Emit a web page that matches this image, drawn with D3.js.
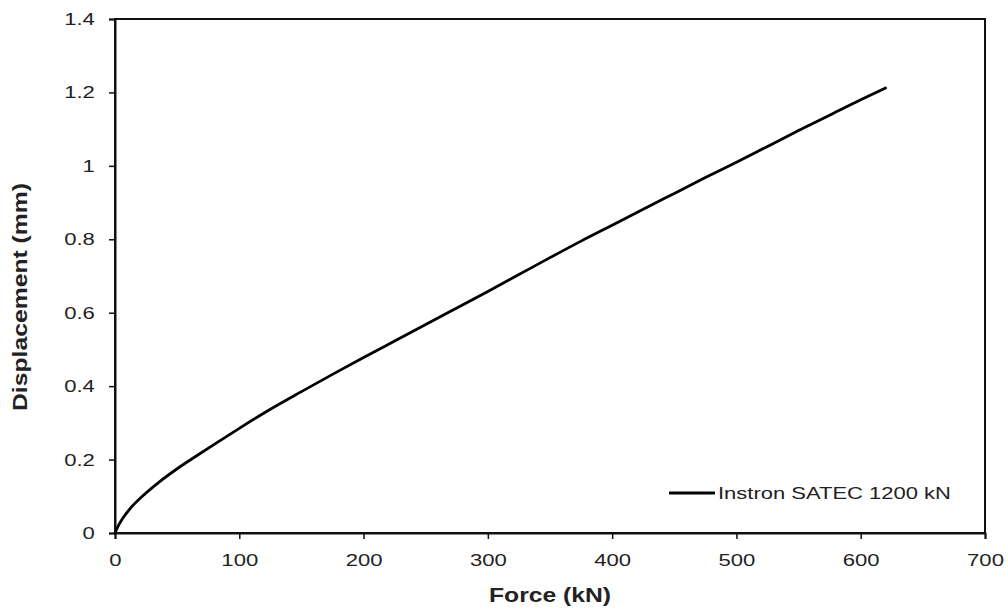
<!DOCTYPE html>
<html>
<head>
<meta charset="utf-8">
<script src="https://cdn.jsdelivr.net/npm/d3@7"></script>
<style>
  body { margin: 0; background: #fff; }
  svg { display: block; font-family: "Liberation Sans", Arial, sans-serif; }
</style>
</head>
<body>
<div id="chart"></div>
<script>
// force (kN) vs displacement (mm)
const force = [0, 3, 6, 12, 22, 36, 50, 66, 82, 100, 125, 150, 175, 200, 225, 250, 275,
  300, 325, 350, 375, 400, 425, 450, 475, 500, 525, 550, 575, 600, 620];
const displacement = [0, 0.022, 0.039, 0.066, 0.1, 0.14, 0.175, 0.211, 0.246, 0.285, 0.337,
  0.385, 0.432, 0.478, 0.523, 0.568, 0.613, 0.658, 0.704, 0.75, 0.795, 0.838, 0.882, 0.925,
  0.968, 1.01, 1.053, 1.096, 1.138, 1.18, 1.212];
const xTicks = [0, 100, 200, 300, 400, 500, 600, 700];
const yTicks = [0, 0.2, 0.4, 0.6, 0.8, 1, 1.2, 1.4];
const seriesName = "Instron SATEC 1200 kN";

const width = 1008, height = 611;
const marginLeft = 115, marginRight = 23, marginTop = 19, marginBottom = 78;
const stretch = 1.3; // the original text is wide

const x = d3.scaleLinear([0, 700], [marginLeft, width - marginRight]);
const y = d3.scaleLinear([0, 1.4], [height - marginBottom, marginTop]);

const svg = d3.select("#chart").append("svg")
    .attr("width", width)
    .attr("height", height)
    .attr("viewBox", [0, 0, width, height]);

// frame
svg.append("rect")
    .attr("x", x(0))
    .attr("y", y(1.4))
    .attr("width", x(700) - x(0))
    .attr("height", y(0) - y(1.4))
    .attr("fill", "none")
    .attr("stroke", "#111")
    .attr("stroke-width", 2);

svg.append("g")
    .attr("transform", `translate(0,${y(0)})`)
    .call(d3.axisBottom(x).tickValues(xTicks).tickSize(6).tickPadding(15).tickFormat(d3.format("d")))
    .call(g => g.select(".domain").attr("stroke", "#111").attr("stroke-width", 2))
    .call(g => g.selectAll(".tick line").attr("stroke", "#111").attr("stroke-width", 1.5))
    .call(g => g.selectAll(".tick text").attr("font-size", 17).attr("fill", "#222")
        .attr("font-family", "Liberation Sans, Arial, sans-serif")
        .attr("transform", `scale(${stretch},1)`));

svg.append("g")
    .attr("transform", `translate(${x(0)},0)`)
    .call(d3.axisLeft(y).tickValues(yTicks).tickSize(6).tickPadding(9.5).tickFormat(d => String(+d.toFixed(1))))
    .call(g => g.select(".domain").attr("stroke", "#111").attr("stroke-width", 2))
    .call(g => g.selectAll(".tick line").attr("stroke", "#111").attr("stroke-width", 1.5))
    .call(g => g.selectAll(".tick text").attr("font-size", 17).attr("fill", "#222")
        .attr("font-family", "Liberation Sans, Arial, sans-serif")
        .attr("transform", `scale(${stretch},1)`));

// axis titles
svg.append("text")
    .attr("x", (x(0) + x(700)) / 2 - 61)
    .attr("y", 602)
    .attr("font-size", 21)
    .attr("font-weight", "bold")
    .attr("fill", "#222")
    .attr("textLength", 122)
    .attr("lengthAdjust", "spacingAndGlyphs")
    .text("Force (kN)");

svg.append("text")
    .attr("transform", `translate(27,${297 + 114}) rotate(-90)`)
    .attr("font-size", 21)
    .attr("font-weight", "bold")
    .attr("fill", "#222")
    .attr("textLength", 228)
    .attr("lengthAdjust", "spacingAndGlyphs")
    .text("Displacement (mm)");

// curve
const pts = d3.zip(force, displacement);
svg.append("path")
    .datum(pts)
    .attr("fill", "none")
    .attr("stroke", "#000")
    .attr("stroke-width", 2.8)
    .attr("stroke-linejoin", "round")
    .attr("stroke-linecap", "round")
    .attr("d", d3.line().x(d => x(d[0])).y(d => y(d[1])).curve(d3.curveMonotoneX));

// legend
const legend = svg.append("g").attr("transform", "translate(669,493)");
legend.append("line")
    .attr("x1", 0).attr("x2", 46)
    .attr("stroke", "#000").attr("stroke-width", 2.8);
legend.append("text")
    .attr("x", 49)
    .attr("dy", "0.35em")
    .attr("font-size", 17)
    .attr("fill", "#222")
    .attr("textLength", 233)
    .attr("lengthAdjust", "spacingAndGlyphs")
    .text(seriesName);
</script>
</body>
</html>
